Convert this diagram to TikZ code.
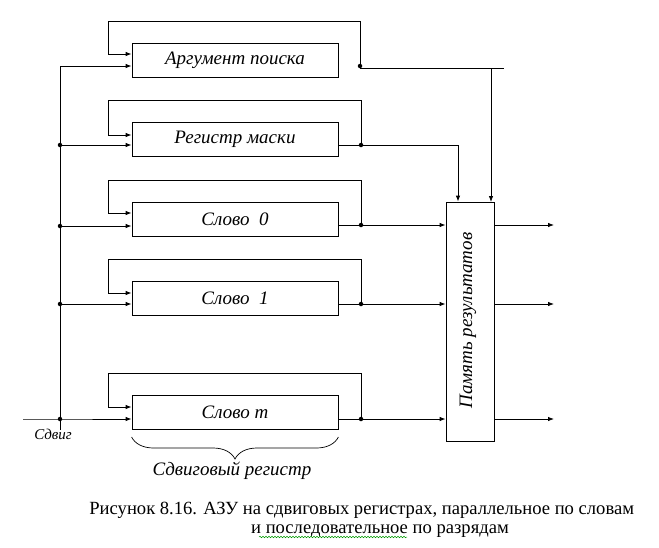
\documentclass[tikz,border=0pt]{standalone}
\usepackage{fontspec}
\setmainfont{Liberation Serif}
\usetikzlibrary{arrows.meta,decorations.pathreplacing,decorations.pathmorphing}
\begin{document}
\begin{tikzpicture}[x=1pt,y=-1pt,
  line width=0.8pt,
  reg/.style={draw,rectangle,minimum width=206pt,minimum height=34pt,inner sep=0pt,font=\fontsize{19}{22}\selectfont\itshape},
  arr/.style={-{Latex[length=6pt,width=4.5pt]}},
  dot/.style={circle,fill,inner sep=0pt,minimum size=4.5pt},
  lbl/.style={font=\fontsize{19}{22}\selectfont\itshape},
  captxt/.style={font=\fontsize{18.6}{21}\selectfont,inner sep=0pt}]
\useasboundingbox (0,0) rectangle (659,547);

% registers
\node[reg] (b1) at (235,60) {Аргумент поиска};
\node[reg] (b2) at (235,139) {Регистр маски};
\node[reg] (b3) at (235,219) {Слово~~0};
\node[reg] (b4) at (235,298) {Слово~~1};
\node[reg] (b5) at (235,412.5) {Слово \textit{m}};
\node[draw,rectangle,minimum width=48pt,minimum height=239pt,inner sep=0pt] (mem) at (470,321.5) {};
\node[lbl,rotate=90] (memt) at (468,320.5) {Память результатов};

% feedback loops
\coordinate (r1) at (360,66);
\coordinate (r2) at (361,145);
\coordinate (r3) at (361,225);
\coordinate (r4) at (361,304);
\coordinate (r5) at (361,419);
\draw[arr] (r1) -- (360,21) -- (108,21) -- (108,54) -- (b1.west |- 0,54);
\draw[arr] (r2) -- (361,100) -- (108,100) -- (108,135) -- (b2.west |- 0,135);
\draw[arr] (r3) -- (361,180) -- (108,180) -- (108,213) -- (b3.west |- 0,213);
\draw[arr] (r4) -- (361,259) -- (108,259) -- (108,293) -- (b4.west |- 0,293);
\draw[arr] (r5) -- (361,373) -- (108,373) -- (108,407) -- (b5.west |- 0,407);
\node[dot] at (r1) {};
\node[dot] at (r2) {};
\node[dot] at (r3) {};
\node[dot] at (r4) {};
\node[dot] at (r5) {};

% outputs to result memory
\coordinate (t1) at (504,68);
\draw (r1) -- (360,68) -- (t1);
\draw[arr] (491,68) -- (491,202);
\draw (b2.east |- r2) -- (r2);
\draw[arr] (r2) -- (458,145) -- (mem.north -| 458,0);
\draw (b3.east |- r3) -- (r3);
\draw[arr] (r3) -- (mem.west |- r3);
\draw (b4.east |- r4) -- (r4);
\draw[arr] (r4) -- (mem.west |- r4);
\draw (b5.east |- r5) -- (r5);
\draw[arr] (r5) -- (mem.west |- r5);
\coordinate (o3) at (554,225);
\coordinate (o4) at (554,304);
\coordinate (o5) at (554,419);
\draw[arr] (mem.east |- o3) -- (o3);
\draw[arr] (mem.east |- o4) -- (o4);
\draw[arr] (mem.east |- o5) -- (o5);

% shift bus
\coordinate (sin) at (23,419);
\coordinate (stop) at (60,66);
\coordinate (sbot) at (60,430);
\coordinate (s2) at (60,145);
\coordinate (s3) at (60,226);
\coordinate (s4) at (60,304);
\coordinate (s5) at (60,419);
\draw (sbot) -- (stop);
\draw[arr] (stop) -- (b1.west |- stop);
\draw[arr] (s2) -- (b2.west |- s2);
\draw[arr] (s3) -- (b3.west |- s3);
\draw[arr] (s4) -- (b4.west |- s4);
\draw[arr] (sin) -- (s5) -- (b5.west |- s5);
\node[dot] at (s2) {};
\node[dot] at (s3) {};
\node[dot] at (s4) {};
\node[dot] at (s5) {};
\node[font=\fontsize{15}{17}\selectfont\itshape] (sl) at (53,434) {Сдвиг};

% brace
\draw[line width=0.7pt,decorate,decoration={brace,mirror,amplitude=22pt}] (b5.south west |- 0,437) -- (b5.south east |- 0,437);
\node[lbl] (bl) at (232,471) {Сдвиговый регистр};

% caption
\node[captxt,anchor=base west] (c1) at (89,514) {Рисунок 8.16. АЗУ на сдвиговых регистрах, параллельное по словам};
\node[captxt,anchor=base] (c2) at (380,533) {и последовательное по разрядам};
\draw[green!60!black,line width=0.5pt,decorate,decoration={snake,amplitude=0.8pt,segment length=3pt}] (259,537) -- (407,537);
\end{tikzpicture}
\end{document}
